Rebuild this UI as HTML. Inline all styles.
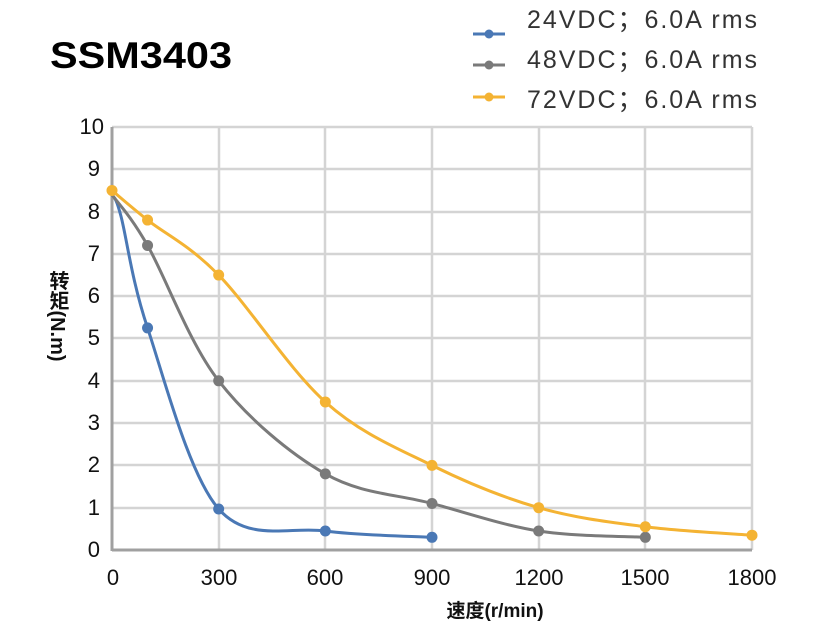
<!DOCTYPE html>
<html><head><meta charset="utf-8"><style>
body{margin:0;background:#fff;}
svg{display:block;font-family:"Liberation Sans","Noto Sans CJK SC",sans-serif;}
</style></head><body>
<svg id="s" width="831" height="640" viewBox="0 0 831 640">
<g stroke="#d4d4d4" stroke-width="2.5" fill="none">
<line x1="112" y1="127" x2="752" y2="127"/><line x1="112" y1="169" x2="752" y2="169"/><line x1="112" y1="212" x2="752" y2="212"/><line x1="112" y1="254" x2="752" y2="254"/><line x1="112" y1="296" x2="752" y2="296"/><line x1="112" y1="338" x2="752" y2="338"/><line x1="112" y1="381" x2="752" y2="381"/><line x1="112" y1="423" x2="752" y2="423"/><line x1="112" y1="465" x2="752" y2="465"/><line x1="112" y1="508" x2="752" y2="508"/>
<line x1="219" y1="127" x2="219" y2="550"/><line x1="325" y1="127" x2="325" y2="550"/><line x1="432" y1="127" x2="432" y2="550"/><line x1="539" y1="127" x2="539" y2="550"/><line x1="645" y1="127" x2="645" y2="550"/><line x1="752" y1="127" x2="752" y2="550"/>
</g>
<line x1="112" y1="550" x2="752" y2="550" stroke="#a0a0a0" stroke-width="3"/>
<line x1="112" y1="127" x2="112" y2="551" stroke="#a0a0a0" stroke-width="3"/>
<g font-size="22" fill="#111" text-anchor="end">
<text x="104" y="134">10</text><text x="100" y="176">9</text><text x="100" y="219">8</text><text x="100" y="261">7</text><text x="100" y="303">6</text><text x="100" y="345">5</text><text x="100" y="388">4</text><text x="100" y="430">3</text><text x="100" y="472">2</text><text x="100" y="515">1</text><text x="100" y="557">0</text>
</g>
<g font-size="22" fill="#111" text-anchor="middle">
<text x="113" y="585">0</text><text x="219" y="585">300</text><text x="325" y="585">600</text><text x="432" y="585">900</text><text x="539" y="585">1200</text><text x="645" y="585">1500</text><text x="752" y="585">1800</text>
</g>
<text x="495" y="617" font-size="19" font-weight="bold" text-anchor="middle" fill="#111">速度(r/min)</text>
<text x="57" y="316" font-size="20" font-weight="bold" text-anchor="middle" fill="#111" style="writing-mode:vertical-rl;text-orientation:mixed">转矩(N.m)</text>
<text x="50" y="68" font-size="37" font-weight="bold" fill="#000" textLength="182" lengthAdjust="spacingAndGlyphs">SSM3403</text>
<g font-size="25" fill="#333">
<text x="527" y="28" textLength="230">24VDC；6.0A rms</text>
<text x="527" y="68" textLength="230">48VDC；6.0A rms</text>
<text x="527" y="108" textLength="230">72VDC；6.0A rms</text>
</g>
<g stroke-width="3">
<line x1="473" y1="34" x2="505" y2="34" stroke="#4a78b5"/><circle cx="489" cy="34" r="4.5" fill="#4a78b5"/>
<line x1="473" y1="65" x2="505" y2="65" stroke="#7a7a7a"/><circle cx="489" cy="65" r="4.5" fill="#7a7a7a"/>
<line x1="473" y1="97" x2="505" y2="97" stroke="#f4b333"/><circle cx="489" cy="97" r="4.5" fill="#f4b333"/>
</g>
<g id="series"></g>
</svg>
<script>
function X(v){return 112+v*640/1800;}function Y(v){return 550-v*42.3;}
function cr(pts){var d="M"+pts[0][0]+","+pts[0][1];for(var i=0;i<pts.length-1;i++){var p0=pts[i-1]||pts[i],p1=pts[i],p2=pts[i+1],p3=pts[i+2]||p2;d+=" C"+(p1[0]+(p2[0]-p0[0])/6)+","+(p1[1]+(p2[1]-p0[1])/6)+" "+(p2[0]-(p3[0]-p1[0])/6)+","+(p2[1]-(p3[1]-p1[1])/6)+" "+p2[0]+","+p2[1];}return d;}
var S=[["#4a78b5",[[0,8.4],[25,7.9],[100,5.25],[300,0.97],[600,0.45],[900,0.3]],[2,3,4,5]],
["#7a7a7a",[[0,8.4],[100,7.2],[300,4],[600,1.8],[900,1.1],[1200,0.45],[1500,0.3]],[1,2,3,4,5,6]],
["#f4b333",[[0,8.5],[100,7.8],[300,6.5],[600,3.5],[900,2],[1200,1],[1500,0.55],[1800,0.35]],[0,1,2,3,4,5,6,7]]];
var g=document.getElementById("series"),h="";
S.forEach(function(s){var p=s[1].map(function(a){return[X(a[0]),Y(a[1])];});h+='<path d="'+cr(p)+'" fill="none" stroke="'+s[0]+'" stroke-width="3"/>';s[2].forEach(function(i){h+='<circle cx="'+p[i][0]+'" cy="'+p[i][1]+'" r="5.5" fill="'+s[0]+'"/>';});});
g.innerHTML=h;
</script>
</body></html>
